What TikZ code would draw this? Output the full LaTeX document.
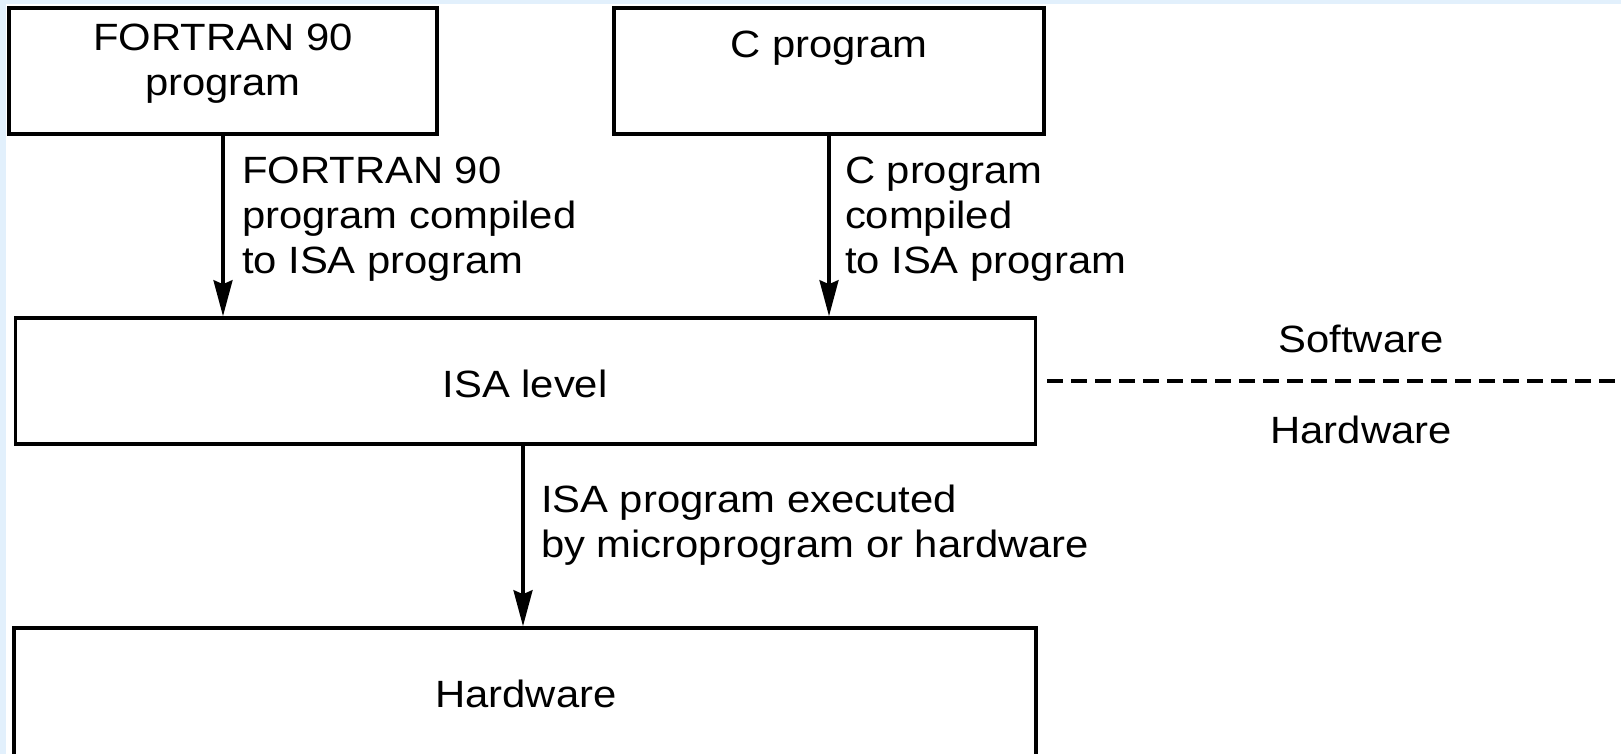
\documentclass[tikz,border=0pt]{standalone}
\usepackage{fontspec}
\setmainfont{Liberation Sans}[FakeStretch=1.1]
\usetikzlibrary{arrows.meta}
\definecolor{bgblue}{RGB}{226,240,252}
\tikzset{
  box/.style={draw=black, line width=1.8pt, rectangle, inner sep=0pt},
  txt/.style={font=\fontsize{19pt}{22.5pt}\selectfont, inner sep=0pt, outer sep=0pt},
  arr/.style={line width=1.6pt, -{Stealth[length=18pt, width=9.5pt, inset=2pt]}},
  dashline/.style={line width=1.8pt, dash pattern=on 8pt off 4pt},
}
\begin{document}
\begin{tikzpicture}[x=0.5pt, y=-0.5pt]
\useasboundingbox (0,0) rectangle (1621,754);
\fill[white] (0,0) rectangle (1621,754);
\fill[bgblue] (0,0) rectangle (6,754);
\fill[bgblue] (0,0) rectangle (1621,4);
% boxes
\node[box, minimum width=214pt, minimum height=63pt] (fortran) at (223,71) {};
\node[box, minimum width=215pt, minimum height=63pt] (cprog) at (829,71) {};
\node[box, minimum width=510pt, minimum height=63pt] (isa) at (525.5,381) {};
\node[box, minimum width=511pt, minimum height=65pt] (hw) at (525,693) {};
% box texts
\node[txt, anchor=base, align=center] (tfortran) at (223,96) {FORTRAN 90\\program};
\node[txt, anchor=base] (tcprog) at (829,58) {C program};
\node[txt, anchor=base] (tisa) at (525,397) {ISA level};
\node[txt, anchor=base] (thw) at (526,707) {Hardware};
% arrows
\draw[arr] (fortran.south) -- (fortran.south |- isa.north);
\draw[arr] (cprog.south) -- (cprog.south |- isa.north);
\draw[arr] (isa.south -| 523,0) -- (hw.north -| 523,0);
% arrow labels
\node[txt, anchor=base west, align=left] (lfortran) at (242,273) {FORTRAN 90\\program compiled\\to ISA program};
\node[txt, anchor=base west, align=left] (lcprog) at (845,273) {C program\\compiled\\to ISA program};
\node[txt, anchor=base west, align=left] (lisa) at (541,557) {ISA program executed\\by microprogram or hardware};
% software / hardware divider
\coordinate (dend) at (1621,381);
\draw[dashline, shorten <=5pt] (isa.east) -- (dend);
\node[txt, anchor=base] (tsw) at (1361,352) {Software};
\node[txt, anchor=base] (thw2) at (1361,443) {Hardware};
\end{tikzpicture}
\end{document}
